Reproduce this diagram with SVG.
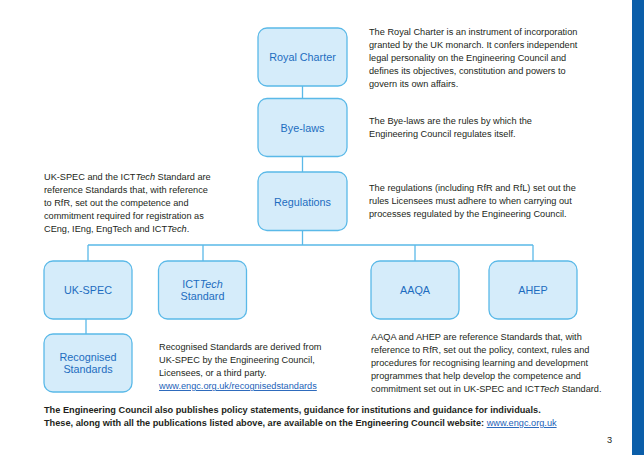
<svg xmlns="http://www.w3.org/2000/svg" width="644" height="455" viewBox="0 0 644 455">
<style>
.box{fill:#d5ecfa;stroke:#5ab9e8;stroke-width:1.3}
.lbl{font-family:"Liberation Sans",Arial,sans-serif;font-size:10.8px;fill:#1d6cc0;text-anchor:middle}
.txt{font-family:"Liberation Sans",Arial,sans-serif;font-size:9.2px;fill:#231f20}
.bold{font-weight:bold}
.lnk{fill:#1d5fb8;text-decoration:underline}
.conn{fill:none;stroke:#5ab9e8;stroke-width:1.3}
</style>
<rect x="0" y="0" width="644" height="455" fill="#ffffff"/>
<rect x="632" y="0" width="12" height="455" fill="#0b5ea9"/>
<g id="connectors">
<path class="conn" d="M302.5 86V98M302.5 157V172M302.5 231V245M88 245H533M88 245V261M203 245V261M415 245V261M533 245V261M86 318V334"/>
</g>
<g id="royal-charter"><rect class="box" x="258" y="28" width="89" height="58" rx="9"/><text class="lbl" x="302.5" y="61">Royal Charter</text></g>
<g id="bye-laws"><rect class="box" x="258" y="98.5" width="89" height="58" rx="9"/><text class="lbl" x="302.5" y="131.5">Bye-laws</text></g>
<g id="regulations"><rect class="box" x="258" y="172" width="89" height="58.5" rx="9"/><text class="lbl" x="302.5" y="205.5">Regulations</text></g>
<g id="uk-spec"><rect class="box" x="44" y="261" width="88" height="58" rx="9"/><text class="lbl" x="88" y="294">UK-SPEC</text></g>
<g id="icttech"><rect class="box" x="158.5" y="261" width="88" height="58" rx="9"/><text class="lbl" x="202.5" y="287.5">ICT<tspan font-style="italic">Tech</tspan></text><text class="lbl" x="202.5" y="300">Standard</text></g>
<g id="aaqa"><rect class="box" x="371" y="261" width="88" height="58" rx="9"/><text class="lbl" x="415" y="294">AAQA</text></g>
<g id="ahep"><rect class="box" x="489" y="261" width="88" height="58" rx="9"/><text class="lbl" x="533" y="294">AHEP</text></g>
<g id="recognised-standards"><rect class="box" x="44" y="334" width="88" height="58" rx="9"/><text class="lbl" x="88" y="360.5">Recognised</text><text class="lbl" x="88" y="373">Standards</text></g>
<g id="text-royal">
<text class="txt" x="369" y="35">The Royal Charter is an instrument of incorporation</text>
<text class="txt" x="369" y="48">granted by the UK monarch. It confers independent</text>
<text class="txt" x="369" y="61">legal personality on the Engineering Council and</text>
<text class="txt" x="369" y="74">defines its objectives, constitution and powers to</text>
<text class="txt" x="369" y="87">govern its own affairs.</text>
</g>
<g id="text-byelaws">
<text class="txt" x="369" y="124">The Bye-laws are the rules by which the</text>
<text class="txt" x="369" y="137">Engineering Council regulates itself.</text>
</g>
<g id="text-regulations">
<text class="txt" x="369" y="191">The regulations (including RfR and RfL) set out the</text>
<text class="txt" x="369" y="204">rules Licensees must adhere to when carrying out</text>
<text class="txt" x="369" y="217">processes regulated by the Engineering Council.</text>
</g>
<g id="text-ukspec">
<text class="txt" x="44" y="180">UK-SPEC and the ICT<tspan font-style="italic">Tech</tspan> Standard are</text>
<text class="txt" x="44" y="193">reference Standards that, with reference</text>
<text class="txt" x="44" y="206">to RfR, set out the competence and</text>
<text class="txt" x="44" y="219">commitment required for registration as</text>
<text class="txt" x="44" y="232">CEng, IEng, EngTech and ICT<tspan font-style="italic">Tech</tspan>.</text>
</g>
<g id="text-recognised">
<text class="txt" x="159" y="350">Recognised Standards are derived from</text>
<text class="txt" x="159" y="363">UK-SPEC by the Engineering Council,</text>
<text class="txt" x="159" y="376">Licensees, or a third party.</text>
<text class="txt lnk" x="159" y="389">www.engc.org.uk/recognisedstandards</text>
</g>
<g id="text-aaqa">
<text class="txt" x="371" y="340">AAQA and AHEP are reference Standards that, with</text>
<text class="txt" x="371" y="353">reference to RfR, set out the policy, context, rules and</text>
<text class="txt" x="371" y="366">procedures for recognising learning and development</text>
<text class="txt" x="371" y="379">programmes that help develop the competence and</text>
<text class="txt" x="371" y="392">commitment set out in UK-SPEC and ICT<tspan font-style="italic">Tech</tspan> Standard.</text>
</g>
<g id="footer">
<text class="txt bold" x="44" y="413">The Engineering Council also publishes policy statements, guidance for institutions and guidance for individuals.</text>
<text class="txt bold" x="44" y="426">These, along with all the publications listed above, are available on the Engineering Council website: <tspan class="lnk" font-weight="normal">www.engc.org.uk</tspan></text>
<text class="txt" x="607" y="443">3</text>
</g>
</svg>
